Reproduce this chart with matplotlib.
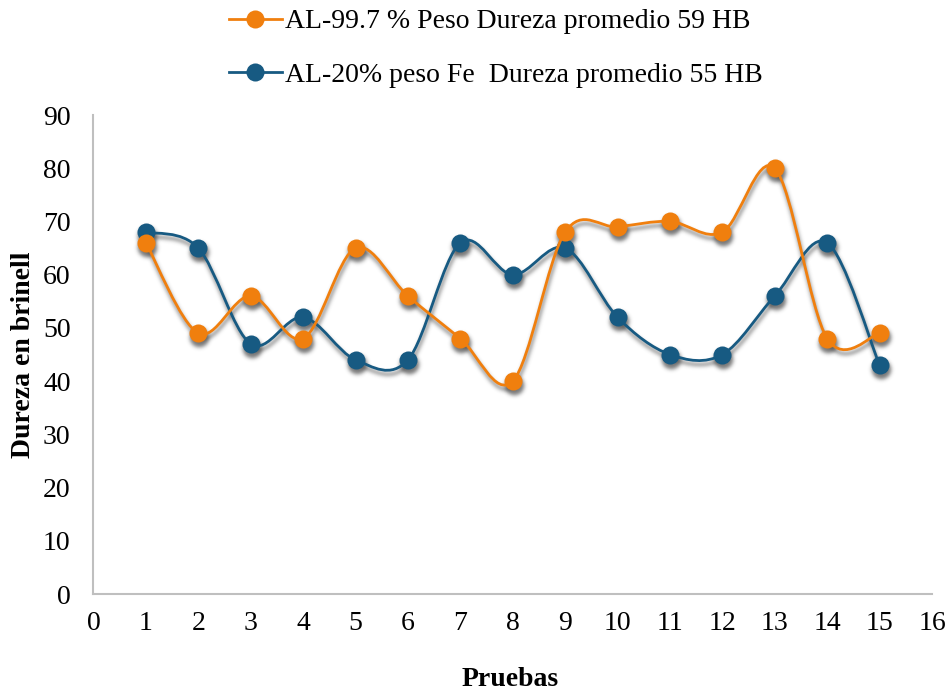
import numpy as np
import matplotlib
matplotlib.use("Agg")
import matplotlib.pyplot as plt
from matplotlib.path import Path
from matplotlib.patches import PathPatch
from matplotlib.lines import Line2D

plt.rcParams['font.family'] = ['Liberation Serif', 'DejaVu Serif']

# Hardness test data (Brinell)
pruebas = [1, 2, 3, 4, 5, 6, 7, 8, 9, 10, 11, 12, 13, 14, 15]
al_997 = [66, 49, 56, 48, 65, 56, 48, 40, 68, 69, 70, 68, 80, 48, 49]
al_20fe = [68, 65, 47, 52, 44, 44, 66, 60, 65, 52, 45, 45, 56, 66, 43]

label_997 = "AL-99.7 % Peso Dureza promedio 59 HB"
label_20fe = "AL-20% peso Fe  Dureza promedio 55 HB"

color_997 = "#F07F0E"
color_20fe = "#175A82"

x_ticks = list(range(0, 17))
y_ticks = list(range(0, 91, 10))

FS = 20


def smooth_path(xs, ys):
    """Catmull-Rom style cubic Bezier through the points (spreadsheet smoothing)."""
    p = np.column_stack([xs, ys]).astype(float)
    n = len(p)
    verts = [p[0]]
    codes = [Path.MOVETO]
    for i in range(n - 1):
        p0 = p[i - 1] if i > 0 else p[i]
        p1 = p[i]
        p2 = p[i + 1]
        p3 = p[i + 2] if i + 2 < n else p[i + 1]
        c1 = p1 + (p2 - p0) / 6.0
        c2 = p2 - (p3 - p1) / 6.0
        verts += [c1, c2, p2]
        codes += [Path.CURVE4] * 3
    return Path(np.array(verts), codes)


def _blur1d(a, sigma, axis):
    r = int(3 * sigma)
    k = np.exp(-0.5 * (np.arange(-r, r + 1) / sigma) ** 2)
    k /= k.sum()
    out = np.zeros_like(a)
    for j, w in enumerate(k):
        out += w * np.roll(a, j - r, axis=axis)
    return out


def drop_shadow(im, dpi):
    pad = 12
    a = np.pad(im[..., 3], pad)
    a = _blur1d(a, 2.0, 0)
    a = _blur1d(a, 2.0, 1)
    a = np.roll(a, 4, axis=0)   # downward
    a = np.roll(a, 1, axis=1)   # right
    out = np.zeros(a.shape + (4,), dtype=im.dtype)
    out[..., 0:3] = 0.25
    out[..., 3] = np.clip(a * 0.7, 0, 1)
    return out, -pad, -pad


fig = plt.figure(figsize=(9.49, 6.92), dpi=100)
ax = fig.add_axes([0.0985, 0.1416, 0.8836, 0.6922])

for ys, col, z in [(al_20fe, color_20fe, 3), (al_997, color_997, 5)]:
    path = smooth_path(pruebas, ys)
    # soft drop shadow under line and markers
    sh = PathPatch(path, fill=False, edgecolor="k", lw=2.0, zorder=1)
    ax.add_patch(sh)
    sh.set_agg_filter(drop_shadow)
    shm, = ax.plot(pruebas, ys, ls="none", marker="o", ms=13, color="k", zorder=1)
    shm.set_agg_filter(drop_shadow)
    # smoothed line and markers
    ax.add_patch(PathPatch(path, fill=False, edgecolor=col, lw=2.0, zorder=z))
    ax.plot(pruebas, ys, ls="none", marker="o", ms=13, color=col,
            markeredgewidth=0, zorder=z + 0.5)

ax.set_xlim(0, 16)
ax.set_ylim(0, 90)
ax.set_xticks(x_ticks)
ax.set_yticks(y_ticks)
ax.tick_params(axis="both", length=0, labelsize=FS)
ax.tick_params(axis="x", pad=12)
ax.tick_params(axis="y", pad=16.5)
for s in ["top", "right"]:
    ax.spines[s].set_visible(False)
for s in ["left", "bottom"]:
    ax.spines[s].set_color("#BFBFBF")
    ax.spines[s].set_linewidth(1.5)

ax.set_xlabel("Pruebas", fontsize=FS, fontweight="bold", va="baseline")
ax.xaxis.set_label_coords(0.4967, -0.192)
ax.set_ylabel("Dureza en brinell", fontsize=FS, fontweight="bold", va="center")
ax.yaxis.set_label_coords(-0.083, 0.5)

handles = [
    Line2D([], [], color=color_997, lw=2.0, marker="o", ms=13, markeredgewidth=0),
    Line2D([], [], color=color_20fe, lw=2.0, marker="o", ms=13, markeredgewidth=0),
]
fig.legend(handles, [label_997, label_20fe], loc="upper left",
           bbox_to_anchor=(229 / 949, 1 - 9 / 692), bbox_transform=fig.transFigure,
           frameon=False, fontsize=FS, handlelength=1.9, handletextpad=0.12,
           labelspacing=1.0, borderpad=0, borderaxespad=0)

fig.savefig("out.png", dpi=100)
